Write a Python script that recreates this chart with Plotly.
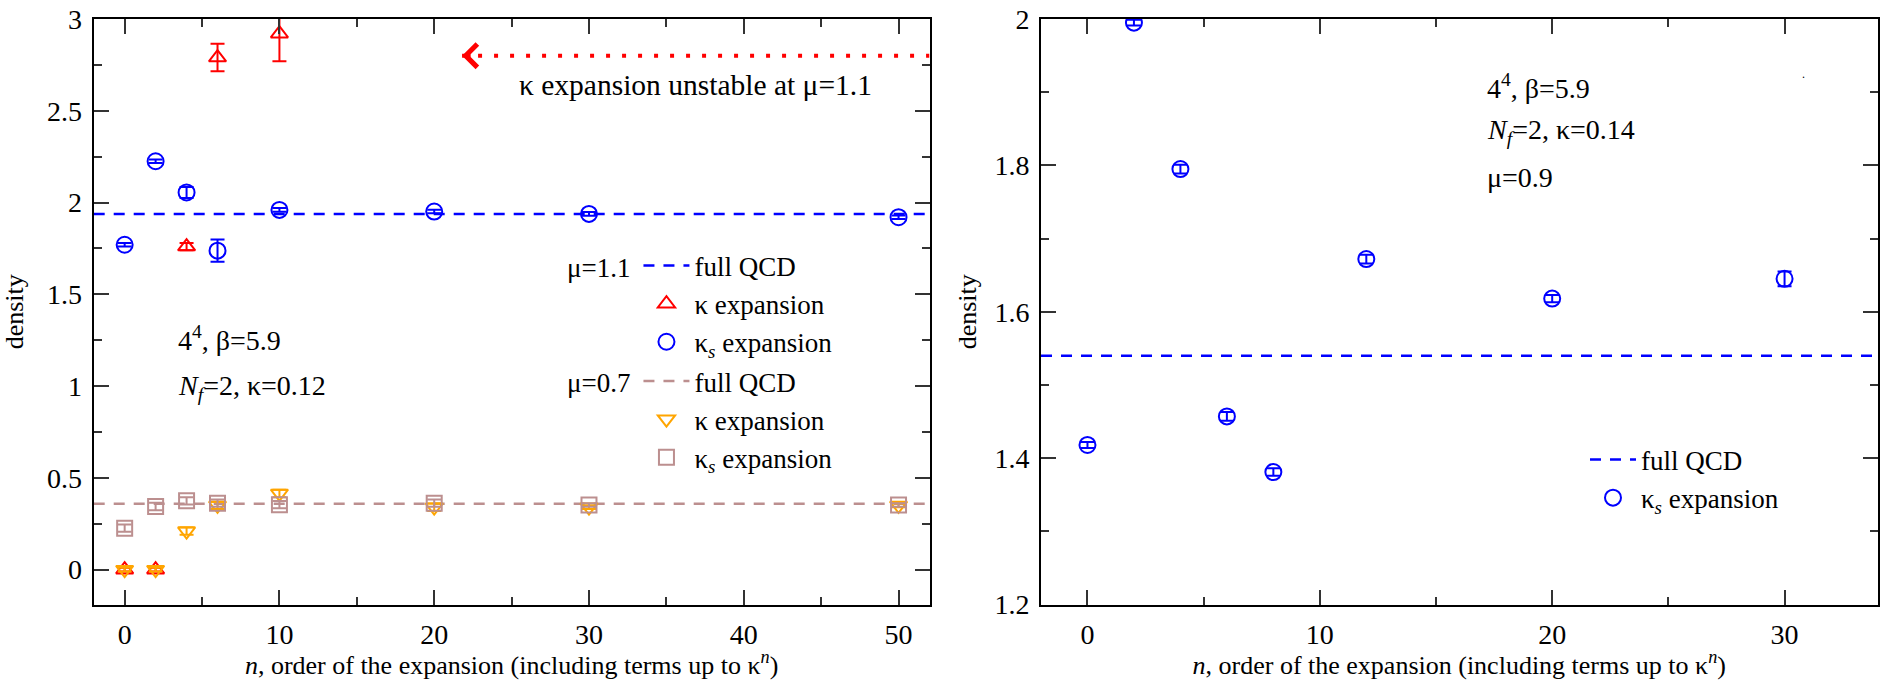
import plotly.graph_objects as go

W, H = 1881, 680
FONT = "Liberation Serif"
FS_TICK = 28
FS_TITLE = 26
FS_LEG = 27
FS_ANN = 28

# ---------------- data: left panel ----------------
qcd_mu11 = 1.938
qcd_mu07 = 0.359
line_x_left = [-2, 52]

n_k11 = [0, 2, 4, 6, 10]
y_k11 = [0.0, 0.0, 1.76, 2.79, 2.92]
e_k11 = [0.01, 0.01, 0.02, 0.075, 0.15]

n_ks11 = [0, 2, 4, 6, 10, 20, 30, 50]
y_ks11 = [1.77, 2.225, 2.055, 1.738, 1.96, 1.951, 1.938, 1.92]
e_ks11 = [0.01, 0.01, 0.03, 0.06, 0.01, 0.01, 0.01, 0.01]

n_k07 = [0, 2, 4, 6, 10, 20, 30, 50]
y_k07 = [0.0, 0.0, 0.21, 0.35, 0.415, 0.34, 0.34, 0.35]
e_k07 = [0.01, 0.01, 0.02, 0.02, 0.02, 0.02, 0.01, 0.01]

n_ks07 = [0, 2, 4, 6, 10, 20, 30, 50]
y_ks07 = [0.226, 0.344, 0.375, 0.362, 0.354, 0.362, 0.352, 0.352]
e_ks07 = [0.02, 0.02, 0.02, 0.02, 0.02, 0.02, 0.01, 0.01]

arrow_x = [21.8, 52]
arrow_y = [2.8, 2.8]

# ---------------- data: right panel ----------------
qcd_mu09 = 1.54
line_x_right = [-2, 34]
n_ks09 = [0, 2, 4, 6, 8, 12, 20, 30]
y_ks09 = [1.418, 1.995, 1.795, 1.457, 1.381, 1.672, 1.618, 1.645]
e_ks09 = [0.004, 0.004, 0.006, 0.006, 0.005, 0.006, 0.005, 0.01]

BLUE = "#0000ff"
RED = "#ff0000"
ORANGE = "#ffa500"
BROWN = "#bc8f8f"

KS = "κ<sub><i>s</i></sub> expansion"
KE = "κ expansion"

fig = go.Figure()


def pts(x, y, e, sym, col, name, xa, ya, legend, size=15):
    fig.add_trace(go.Scatter(
        x=x, y=y, mode="markers", name=name, xaxis=xa, yaxis=ya, legend=legend,
        marker=dict(symbol=sym, size=size, color=col,
                    line=dict(color=col, width=2)),
        error_y=dict(type="data", array=e, color=col, thickness=2, width=7),
        cliponaxis=True,
    ))


def dline(x, yv, col, name, xa, ya, legend):
    fig.add_trace(go.Scatter(
        x=x, y=[yv] * len(x), mode="lines", name=name, xaxis=xa, yaxis=ya,
        legend=legend, line=dict(color=col, width=2.5, dash="11px,9px"),
    ))


dline(line_x_left, qcd_mu11, BLUE, "full QCD", "x", "y", "legend")
pts(n_k11, y_k11, e_k11, "triangle-up-open", RED, KE, "x", "y", "legend")
pts(n_ks11, y_ks11, e_ks11, "circle-open", BLUE, KS, "x", "y", "legend", size=16)
dline(line_x_left, qcd_mu07, BROWN, "full QCD", "x", "y", "legend2")
pts(n_k07, y_k07, e_k07, "triangle-down-open", ORANGE, KE, "x", "y", "legend2")
pts(n_ks07, y_ks07, e_ks07, "square-open", BROWN, KS, "x", "y", "legend2")

fig.add_trace(go.Scatter(x=arrow_x, y=arrow_y, mode="lines", xaxis="x", yaxis="y",
                         showlegend=False, line=dict(color=RED, width=4, dash="4px,12px"),
                         hoverinfo="skip"))

dline(line_x_right, qcd_mu09, BLUE, "full QCD", "x2", "y2", "legend3")
pts(n_ks09, y_ks09, e_ks09, "circle-open", BLUE, KS, "x2", "y2", "legend3", size=16)

xl = [93.7 / W, 929.5 / W]
xr = [1041 / W, 1877.5 / W]
yd = [(H - 604.5) / H, (H - 19) / H]

axis_common = dict(
    showline=True, linecolor="black", linewidth=2, mirror="ticks",
    ticks="inside", ticklen=15, tickwidth=2, tickcolor="#333",
    showgrid=False, zeroline=False, automargin=False, ticklabelstandoff=4,
    tickfont=dict(family=FONT, size=FS_TICK, color="black"),
)
xtitle = "<i>n</i>, order of the expansion (including terms up to κ<sup><i>n</i></sup>)"
minor_x = dict(ticks="inside", ticklen=8, dtick=5, tickwidth=2, tickcolor="#333")
tfont = dict(family=FONT, size=FS_TITLE, color="black")
lfont = dict(family=FONT, size=FS_LEG, color="black")

fig.update_layout(
    width=W, height=H,
    margin=dict(l=0, r=0, t=0, b=0),
    paper_bgcolor="white", plot_bgcolor="white",
    font=dict(family=FONT, size=FS_ANN, color="black"),
    xaxis=dict(domain=xl, range=[-2, 52], dtick=10, tick0=0, minor=minor_x,
               title=dict(text=xtitle, standoff=8, font=tfont), anchor="y", **axis_common),
    yaxis=dict(domain=yd, range=[-0.19, 3], dtick=0.5, tick0=0,
               minor=dict(ticks="inside", ticklen=8, dtick=0.25, tickwidth=2, tickcolor="#333"),
               title=dict(text="density", standoff=20, font=tfont), anchor="x", **axis_common),
    xaxis2=dict(domain=xr, range=[-2, 34], dtick=10, tick0=0, minor=minor_x,
                title=dict(text=xtitle, standoff=8, font=tfont), anchor="y2", **axis_common),
    yaxis2=dict(domain=yd, range=[1.2, 2.0], dtick=0.2, tick0=0,
                minor=dict(ticks="inside", ticklen=8, dtick=0.1, tickwidth=2, tickcolor="#333"),
                title=dict(text="density", standoff=10, font=tfont), anchor="x2", **axis_common),
    legend=dict(x=565 / W, y=(H - 241.5) / H, xanchor="left", yanchor="top",
                bgcolor="rgba(0,0,0,0)", font=lfont,
                title=dict(text="μ=1.1", side="left", font=lfont),
                itemwidth=46, tracegroupgap=0),
    legend2=dict(x=565 / W, y=(H - 357) / H, xanchor="left", yanchor="top",
                 bgcolor="rgba(0,0,0,0)", font=lfont,
                 title=dict(text="μ=0.7", side="left", font=lfont),
                 itemwidth=46, tracegroupgap=0),
    legend3=dict(x=1585 / W, y=(H - 435.5) / H, xanchor="left", yanchor="top",
                 bgcolor="rgba(0,0,0,0)", font=lfont,
                 itemwidth=46, tracegroupgap=0),
    showlegend=True,
)

afont = dict(family=FONT, size=FS_ANN, color="black")
annots = [
    dict(x=arrow_x[0], y=arrow_y[0], ax=10, ay=0, xref="x", yref="y", text="",
         showarrow=True, arrowhead=4, arrowsize=1.5, arrowwidth=3, arrowcolor=RED),
    dict(x=36.9, y=2.64, xref="x", yref="y", text="κ expansion unstable at μ=1.1",
         showarrow=False, xanchor="center", yanchor="middle",
         font=dict(family=FONT, size=29.5, color="black")),
    dict(x=3.3, y=1.26, xref="x", yref="y", text="4<sup>4</sup>, β=5.9",
         showarrow=False, xanchor="left", yanchor="middle", font=afont),
    dict(x=3.3, y=0.99, xref="x", yref="y", text="<i>N</i><sub><i>f</i></sub>=2, κ=0.12",
         showarrow=False, xanchor="left", yanchor="middle", font=afont),
    dict(x=17.1, y=1.908, xref="x2", yref="y2", text="4<sup>4</sup>, β=5.9",
         showarrow=False, xanchor="left", yanchor="middle", font=afont),
    dict(x=17.1, y=1.846, xref="x2", yref="y2", text="<i>N</i><sub><i>f</i></sub>=2, κ=0.14",
         showarrow=False, xanchor="left", yanchor="middle", font=afont),
    dict(x=17.1, y=1.783, xref="x2", yref="y2", text="μ=0.9",
         showarrow=False, xanchor="left", yanchor="middle", font=afont),
    dict(x=30.8, y=1.925, xref="x2", yref="y2", text=".",
         showarrow=False, xanchor="center", yanchor="middle",
         font=dict(family=FONT, size=12, color="black")),
]
fig.update_layout(annotations=annots)

fig.write_html("out.html")
